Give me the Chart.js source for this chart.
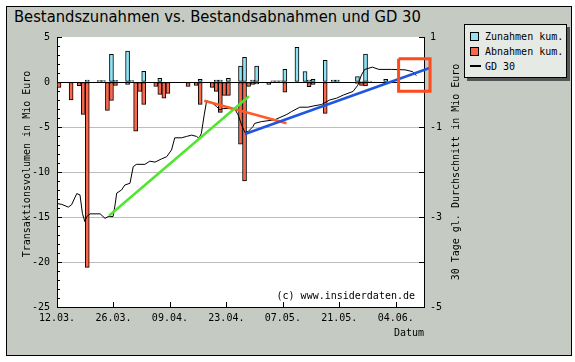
<!DOCTYPE html>
<html>
<head>
<meta charset="utf-8">
<script src="https://cdn.jsdelivr.net/npm/chart.js@4.4.1/dist/chart.umd.min.js"></script>
<style>
  html, body { margin: 0; padding: 0; background: #fff; }
  #wrap { position: relative; width: 575px; height: 362px; overflow: hidden; }
  #panel { position: absolute; left: 6px; top: 6px; width: 564px; height: 348px; background: #c5cac3; border: 1px solid #000; }
  #title { position: absolute; left: 14px; top: 6px; font: 16.4px "DejaVu Sans Condensed", "DejaVu Sans"; line-height: 22px; color: #000; white-space: nowrap; }
  #legend { position: absolute; left: 464px; top: 24px; width: 101px; height: 52px; background: #e6eae4;
            border: 1px solid #000; box-shadow: 3px 3px 0 #555; font: 10px "DejaVu Sans Mono"; color: #000; }
  #legend div { position: absolute; left: 5px; height: 12px; line-height: 12px; white-space: nowrap; }
  #legend span.sw { display: inline-block; width: 7px; height: 7px; border: 1px solid #000; vertical-align: -1px; margin-right: 6px; }
  #legend span.ln { display: inline-block; width: 11px; height: 2px; background: #000; vertical-align: 3px; margin-right: 4px; }
  canvas { position: absolute; left: 0; top: 0; }
</style>
</head>
<body>
<div id="wrap">
  <div id="panel"></div>
  <div id="title">Bestandszunahmen vs. Bestandsabnahmen und GD 30</div>
  <div id="legend">
    <div style="top:6px"><span class="sw" style="background:#8fe3f5"></span>Zunahmen kum.</div>
    <div style="top:21px"><span class="sw" style="background:#f9684c"></span>Abnahmen kum.</div>
    <div style="top:36px"><span class="ln"></span>GD 30</div>
  </div>
  <canvas id="chart" width="575" height="362"></canvas>
</div>
<script>
// days counted from 12.03.
const tickDays = [0, 14, 28, 42, 56, 70, 84];
const tickLabels = ['12.03.', '26.03.', '09.04.', '23.04.', '07.05.', '21.05.', '04.06.'];

// Zunahmen kum. (Mio Euro)
const gainDays = [7, 10, 11, 13, 14, 17, 18, 21, 25, 35, 39, 40, 42, 45, 46, 48, 49, 53, 54, 55, 56, 59, 61, 62, 63, 66, 68, 69, 74, 75, 76, 77, 81];
const gainValues = [0.2, 0.15, 0.15, 3.07, 0.19, 3.44, 0.15, 1.19, 0.41, 0.3, 0.2, 0.2, 0.41, 1.76, 2.74, 0.2, 1.76, 0.12, 0.12, 0.12, 1.41, 3.85, 1.17, 0.2, 0.3, 2.4, 0.2, 0.2, 0.61, 0.1, 3.09, 0.1, 0.3];

// Abnahmen kum. (Mio Euro)
const lossDays = [0, 3, 5, 6, 7, 12, 13, 14, 17, 19, 20, 21, 24, 25, 26, 27, 32, 34, 35, 38, 39, 40, 41, 42, 45, 46, 47, 48, 49, 52, 56, 62, 63, 66, 74, 75, 76];
const lossValues = [-0.6, -2.0, -0.4, -3.6, -20.6, -3.15, -2.04, -0.37, -0.26, -5.45, -1.04, -2.48, -0.48, -1.37, -1.81, -1.26, -0.48, -0.37, -2.48, -0.59, -1.04, -3.37, -1.48, -1.48, -6.9, -11.0, -0.48, -0.28, -0.2, -0.26, -1.12, -0.53, -0.28, -3.48, -0.15, -0.37, -0.43];

// GD 30 (right axis, Mio Euro)
const gdDays = [0, 1.2, 2.8, 3.6, 4.9, 5.7, 6.3, 6.9, 7.4, 8.2, 10.7, 11.9, 12.7, 13.9, 14.4, 14.8, 16, 16.8, 18.1, 18.9, 19.7, 21.8, 23, 24.3, 25.9, 27.2, 28.4, 29.2, 30.9, 32.1, 33.4, 34.6, 35.2, 35.8, 36.5, 37.1, 38.3, 39.6, 40.4, 41.2, 42.5, 44.1, 44.9, 45.8, 46.6, 47.4, 48.6, 49, 50.7, 54, 57, 58.1, 60.2, 62.2, 63.7, 65.6, 67.6, 69.3, 71, 73.4, 74.6, 75.5, 76.3, 78.2, 79.8, 83, 86.3, 88.2, 89.1];
const gdValues = [-2.7, -2.72, -2.78, -2.73, -2.48, -2.51, -2.92, -3.1, -2.99, -2.93, -2.93, -3.03, -2.99, -2.99, -2.73, -2.47, -2.4, -2.29, -2.25, -1.88, -1.83, -1.83, -1.76, -1.78, -1.71, -1.66, -1.51, -1.24, -1.24, -1.21, -1.18, -1.21, -1.25, -1.14, -0.73, -0.42, -0.45, -0.55, -0.62, -0.59, -0.59, -0.6, -0.73, -0.96, -1.12, -1.1, -0.99, -0.92, -0.88, -0.84, -0.72, -0.66, -0.56, -0.56, -0.53, -0.5, -0.4, -0.36, -0.29, -0.21, -0.07, 0.16, 0.28, 0.33, 0.28, 0.28, 0.27, 0.23, 0.14];

// hand drawn trend marks (left axis units)
const greenDays = [12.9, 47.6];
const greenValues = [-14.86, -1.59];
const orangeDays = [36.5, 56.9];
const orangeValues = [-2.08, -4.59];
const blueDays = [46.6, 92.4];
const blueValues = [-5.78, 1.56];
const boxDays = [84.7, 92.5, 92.5, 84.7, 84.7];
const boxValues = [2.59, 2.59, -1.03, -1.03, 2.59];

const monoFont = { family: 'DejaVu Sans Mono', size: 10 };

function points(days, values, shift) {
    return days.map((d, i) => ({ x: d + (shift || 0), y: values[i] }));
}

function markLine(days, values, color, width) {
    return {
        type: 'line',
        data: points(days, values),
        yAxisID: 'y',
        borderColor: color,
        borderWidth: width,
        borderJoinStyle: 'miter',
        pointRadius: 0,
        tension: 0,
        clip: false
    };
}

// white plot area, inner tick marks, axis title on the right, copyright
const plotDecor = {
    id: 'plotDecor',
    beforeDraw(chart) {
        const { ctx, chartArea: a } = chart;
        ctx.save();
        ctx.fillStyle = '#fff';
        ctx.fillRect(a.left, a.top, a.right - a.left, a.bottom - a.top);
        ctx.restore();
    },
    afterDraw(chart) {
        const { ctx, chartArea: a, scales } = chart;
        ctx.save();
        ctx.strokeStyle = '#000';
        ctx.lineWidth = 1;
        ctx.beginPath();
        const y = scales.y;
        for (let v = Math.ceil(y.min); v <= y.max; v++) {
            const py = Math.round(y.getPixelForValue(v)) + 0.5;
            ctx.moveTo(a.left, py);
            ctx.lineTo(a.left + (v % 5 === 0 ? 5 : 3), py);
        }
        const y2 = scales.y2;
        for (let v = Math.ceil(y2.min); v <= y2.max; v++) {
            const py = Math.round(y2.getPixelForValue(v)) + 0.5;
            ctx.moveTo(a.right, py);
            ctx.lineTo(a.right - 5, py);
        }
        scales.x.ticks.forEach(t => {
            const px = Math.round(scales.x.getPixelForValue(t.value)) + 0.5;
            ctx.moveTo(px, a.bottom);
            ctx.lineTo(px, a.bottom - 5);
        });
        ctx.stroke();

        ctx.fillStyle = '#000';
        ctx.font = '10px "DejaVu Sans Mono"';
        ctx.textBaseline = 'middle';
        ctx.textAlign = 'right';
        ctx.fillText('(c) www.insiderdaten.de', a.right - 9, a.bottom - 11);

        ctx.textAlign = 'center';
        ctx.translate(27, 164);
        ctx.rotate(-Math.PI / 2);
        ctx.fillText('Transaktionsvolumen in Mio Euro', 0, 0);
        ctx.setTransform(1, 0, 0, 1, 0, 0);
        ctx.translate(456, (a.top + a.bottom) / 2);
        ctx.rotate(-Math.PI / 2);
        ctx.fillText('30 Tage gl. Durchschnitt in Mio Euro', 0, 0);
        ctx.restore();
    }
};

new Chart(document.getElementById('chart'), {
    type: 'bar',
    data: {
        datasets: [
            markLine(boxDays, boxValues, '#ff4a1c', 3),
            markLine(blueDays, blueValues, '#1f55e0', 2.5),
            markLine(greenDays, greenValues, '#50e630', 2.5),
            markLine(orangeDays, orangeValues, '#ff5a28', 2.5),
            {
                type: 'line',
                label: 'GD 30',
                data: points(gdDays, gdValues),
                yAxisID: 'y2',
                borderColor: '#000',
                borderWidth: 1,
                pointRadius: 0,
                tension: 0
            },
            {
                label: 'Zunahmen kum.',
                data: points(gainDays, gainValues, 0.5),
                yAxisID: 'y',
                backgroundColor: '#8fe3f5',
                borderColor: '#000',
                borderWidth: 1,
                borderSkipped: false,
                barThickness: 4,
                grouped: false
            },
            {
                label: 'Abnahmen kum.',
                data: points(lossDays, lossValues, 0.5),
                yAxisID: 'y',
                backgroundColor: '#f9684c',
                borderColor: '#000',
                borderWidth: 1,
                borderSkipped: false,
                barThickness: 4,
                grouped: false
            }
        ]
    },
    options: {
        responsive: false,
        animation: false,
        devicePixelRatio: 1,
        layout: { padding: { left: 0, top: 37, right: 105, bottom: 0 } },
        plugins: {
            legend: { display: false },
            tooltip: { enabled: false }
        },
        scales: {
            x: {
                type: 'linear',
                min: 0,
                max: 91,
                offset: false,
                ticks: {
                    stepSize: 14,
                    includeBounds: false,
                    autoSkip: false,
                    maxRotation: 0,
                    padding: 5,
                    color: '#000',
                    font: monoFont,
                    callback: v => {
                        const i = tickDays.indexOf(v);
                        return i < 0 ? '' : tickLabels[i];
                    }
                },
                grid: { display: false, drawTicks: false, offset: false },
                border: { display: true, color: '#000' },
                title: { display: true, text: 'Datum', align: 'end', color: '#000', font: monoFont, padding: { top: 0, bottom: 23 } },
                afterFit: s => { s.height = 55; }
            },
            y: {
                position: 'left',
                min: -25,
                max: 5,
                ticks: { stepSize: 5, padding: 7, color: '#000', font: monoFont },
                grid: {
                    drawTicks: false,
                    color: c => {
                        const v = c.tick.value;
                        if (v === 0) return '#000';
                        if (v === 5 || v === -25) return 'rgba(0,0,0,0)';
                        return '#bdbdbd';
                    }
                },
                border: { color: '#000' },
                afterFit: s => { s.width = 57; }
            },
            y2: {
                position: 'right',
                min: -5,
                max: 1,
                ticks: { stepSize: 2, padding: 6, color: '#000', font: monoFont },
                grid: { drawOnChartArea: false, drawTicks: false },
                border: { color: '#000' },
                afterFit: s => { s.width = 46; }
            }
        }
    },
    plugins: [plotDecor]
});
</script>
</body>
</html>
